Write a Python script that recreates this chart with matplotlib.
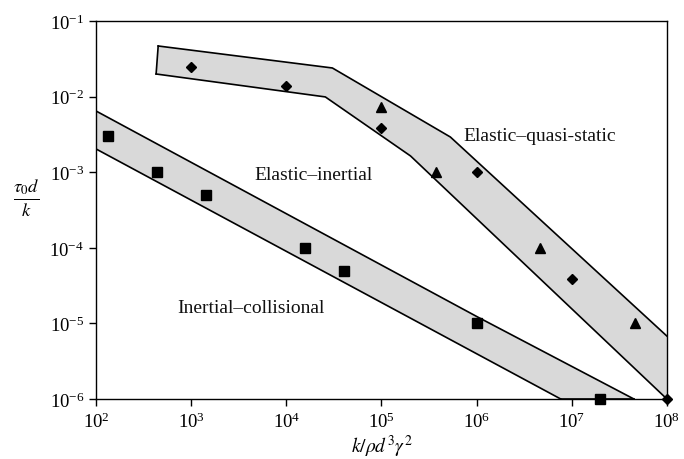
import matplotlib
matplotlib.use("Agg")
import matplotlib.pyplot as plt
from matplotlib.ticker import FixedLocator, LogFormatterMathtext, NullLocator

plt.rcParams["font.family"] = ["Liberation Serif", "DejaVu Serif"]
plt.rcParams["mathtext.fontset"] = "stix"

# Regime band outlines (x = k/(rho d^3 gamma^2), y = tau0 d / k)
upper_top_x = [450, 3.05e4, 5.3e5, 1e8]
upper_top_y = [4.67e-2, 2.39e-2, 2.92e-3, 6.8e-6]
upper_bot_x = [428, 2.57e4, 2.02e5, 1e8]
upper_bot_y = [1.99e-2, 9.9e-3, 1.64e-3, 1e-6]

lower_top_x = [1e2, 1.02e6, 4.5e7]
lower_top_y = [6.45e-3, 1.22e-5, 1e-6]
lower_bot_x = [1e2, 7.66e6]
lower_bot_y = [2.03e-3, 1e-6]

# Measurements
square_x = [135, 435, 1440, 1.56e4, 4.0e4, 1.0e6, 2.0e7]
square_y = [3.0e-3, 1.0e-3, 5.0e-4, 1.0e-4, 5.0e-5, 1.0e-5, 1.0e-6]
diamond_x = [1e3, 1e4, 1e5, 1e6, 1e7, 1e8]
diamond_y = [2.45e-2, 1.38e-2, 3.8e-3, 1.0e-3, 3.9e-5, 1.0e-6]
triangle_x = [1.0e5, 3.7e5, 4.6e6, 4.6e7]
triangle_y = [7.2e-3, 1.0e-3, 1.0e-4, 1.0e-5]

x_ticks = [1e2, 1e3, 1e4, 1e5, 1e6, 1e7, 1e8]
y_ticks = [1e-6, 1e-5, 1e-4, 1e-3, 1e-2, 1e-1]

regime_labels = ["Elastic\u2013inertial", "Inertial\u2013collisional", "Elastic\u2013quasi-static"]

fig = plt.figure(figsize=(6.84, 4.60), dpi=100)
ax = fig.add_axes([0.1404, 0.1304, 0.8346, 0.8218])
ax.set_xscale("log")
ax.set_yscale("log")
ax.set_xlim(x_ticks[0], x_ticks[-1])
ax.set_ylim(y_ticks[0], y_ticks[-1])

band_color = "#d9d9d9"

def band(top_x, top_y, bot_x, bot_y):
    px = list(top_x) + list(bot_x[::-1])
    py = list(top_y) + list(bot_y[::-1])
    ax.fill(px, py, facecolor=band_color, edgecolor="none", zorder=1)
    ax.plot(top_x, top_y, color="black", lw=1.2, zorder=2)
    ax.plot(bot_x, bot_y, color="black", lw=1.2, zorder=2)

band(upper_top_x, upper_top_y, upper_bot_x, upper_bot_y)
# left closing edge of the upper band
ax.plot([upper_top_x[0], upper_bot_x[0]], [upper_top_y[0], upper_bot_y[0]],
        color="black", lw=1.2, zorder=2)

band(lower_top_x, lower_top_y, lower_bot_x, lower_bot_y)
# lower band sits on the bottom axis
ax.plot([lower_bot_x[-1], lower_top_x[-1]], [lower_bot_y[-1], lower_top_y[-1]],
        color="black", lw=1.2, zorder=2, clip_on=False)

ax.plot(square_x, square_y, ls="none", marker="s", ms=7, color="black",
        zorder=4, clip_on=False)
ax.plot(diamond_x, diamond_y, ls="none", marker="D", ms=5, color="black",
        zorder=4, clip_on=False)
ax.plot(triangle_x, triangle_y, ls="none", marker="^", ms=7.5, color="black",
        zorder=4, clip_on=False)

txt_kw = dict(transform=ax.transAxes, fontsize=14, ha="left", va="center",
              color="#111111")
ax.text(0.277, 0.593, regime_labels[0], **txt_kw)
ax.text(0.142, 0.243, regime_labels[1], **txt_kw)
ax.text(0.644, 0.698, regime_labels[2], **txt_kw)

ax.xaxis.set_major_locator(FixedLocator(x_ticks))
ax.yaxis.set_major_locator(FixedLocator(y_ticks))
ax.xaxis.set_major_formatter(LogFormatterMathtext())
ax.yaxis.set_major_formatter(LogFormatterMathtext())
ax.xaxis.set_minor_locator(NullLocator())
ax.yaxis.set_minor_locator(NullLocator())
ax.tick_params(axis="both", which="major", direction="out", length=5,
               width=1, labelsize=13.5, top=False, right=False)
ax.tick_params(axis="x", pad=4)

for s in ax.spines.values():
    s.set_linewidth(1.0)

ax.set_xlabel(r"$k/\rho d^3\gamma^2$", fontsize=14)
ax.xaxis.set_label_coords(0.5, -0.09)
ax.set_ylabel(r"$\frac{\tau_0 d}{k}$", fontsize=19, rotation=0,
              ha="center", va="center")
ax.yaxis.set_label_coords(-0.123, 0.535)

fig.savefig("out.png", dpi=100)
